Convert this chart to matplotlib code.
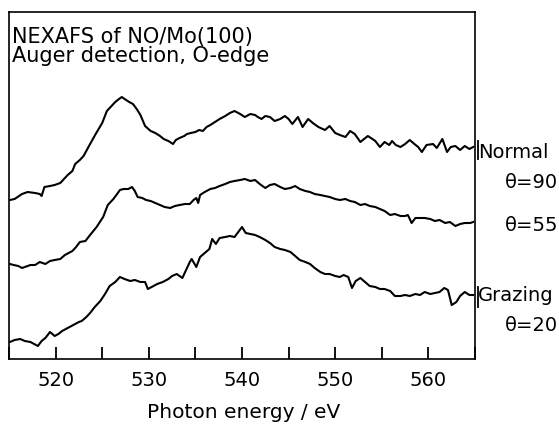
import matplotlib
matplotlib.use('Agg')
import matplotlib.pyplot as plt
from matplotlib.ticker import MultipleLocator

# photon energy (eV) and intensity (arb. units, offset per curve)
e_normal = [515.1, 515.6, 516.4, 517.0, 517.8, 518.3, 518.5, 518.8, 519.4, 519.9,
            520.5, 520.8, 521.3, 521.8, 522.1, 522.6, 523.0, 523.7, 524.3, 525.0,
            525.5, 525.9, 526.4, 526.8, 527.1, 527.4, 527.9, 528.3, 528.7, 529.1,
            529.6, 530.2, 530.7, 531.2, 531.6, 532.1, 532.6, 532.9, 533.3, 533.8,
            534.1, 534.5, 535.0, 535.4, 535.8, 536.2, 536.6, 537.1, 537.6, 538.2,
            538.7, 539.2, 539.8, 540.3, 540.9, 541.4, 541.7, 542.1, 542.5, 543.0,
            543.5, 544.1, 544.6, 545.0, 545.4, 546.0, 546.5, 547.1, 547.6, 548.2,
            548.9, 549.4, 550.0, 550.5, 551.1, 551.6, 552.1, 552.7, 553.1, 553.5,
            554.0, 554.3, 554.8, 555.3, 555.8, 556.1, 556.5, 557.0, 557.5, 558.0,
            558.5, 558.9, 559.3, 559.8, 560.5, 560.9, 561.5, 562.0, 562.4, 562.9,
            563.4, 563.9, 564.4, 564.8]
i_normal = [159, 160, 165, 167, 166, 165, 163, 172, 173, 174,
            176, 179, 184, 188, 195, 199, 203, 215, 225, 236,
            248, 252, 257, 260, 262, 260, 257, 255, 250, 244,
            233, 228, 226, 223, 220, 218, 215, 219, 221, 223,
            225, 226, 227, 229, 228, 232, 234, 237, 240, 243,
            246, 248, 245, 242, 245, 244, 242, 240, 243, 242,
            238, 240, 243, 240, 235, 242, 232, 240, 236, 232,
            229, 233, 226, 224, 222, 228, 225, 217, 220, 223,
            220, 218, 212, 217, 214, 218, 214, 212, 215, 219,
            215, 212, 207, 214, 215, 211, 220, 207, 212, 213,
            209, 213, 210, 212]

e_mid = [515.1, 515.5, 516.0, 516.4, 516.7, 517.3, 517.8, 518.3, 518.9, 519.4,
         519.9, 520.5, 521.0, 521.8, 522.2, 522.6, 523.2, 523.7, 524.4, 525.1,
         525.6, 526.2, 526.6, 526.9, 527.3, 527.8, 528.2, 528.5, 528.8, 529.3,
         529.7, 530.2, 530.7, 531.2, 531.7, 532.3, 532.8, 533.3, 533.9, 534.4,
         534.8, 535.1, 535.3, 535.5, 536.0, 536.6, 537.1, 537.6, 538.2, 538.7,
         539.2, 539.8, 540.3, 540.9, 541.4, 541.9, 542.5, 543.0, 543.5, 544.1,
         544.6, 545.2, 545.7, 546.2, 546.8, 547.3, 547.8, 548.4, 548.9, 549.4,
         550.0, 550.5, 551.1, 551.6, 552.1, 552.7, 553.2, 553.7, 554.3, 554.8,
         555.3, 555.9, 556.4, 557.0, 557.5, 557.8, 558.2, 558.6, 559.1, 559.6,
         560.2, 560.7, 561.2, 561.8, 562.3, 562.9, 563.4, 563.9, 564.5, 564.8]
i_mid = [95, 94, 93, 91, 92, 94, 94, 97, 95, 98,
         99, 100, 104, 108, 112, 117, 118, 124, 132, 142,
         154, 160, 165, 169, 170, 170, 172, 168, 162, 161,
         159, 158, 156, 154, 152, 151, 153, 154, 155, 155,
         159, 161, 156, 164, 167, 170, 171, 173, 175, 177,
         178, 179, 180, 178, 179, 175, 171, 174, 175, 172,
         170, 171, 173, 170, 168, 167, 165, 164, 163, 162,
         160, 159, 160, 158, 157, 154, 155, 153, 152, 150,
         148, 144, 145, 143, 143, 144, 136, 141, 141, 141,
         140, 138, 139, 136, 137, 133, 135, 136, 136, 137]

e_grazing = [515.1, 515.6, 516.2, 516.7, 517.3, 517.7, 518.1, 518.5, 518.9, 519.4,
             519.9, 520.3, 520.7, 521.1, 521.5, 522.1, 522.5, 522.8, 523.3, 523.7,
             524.2, 524.8, 525.3, 525.8, 526.4, 526.9, 527.4, 528.0, 528.5, 529.1,
             529.6, 529.9, 530.3, 530.9, 531.5, 532.1, 532.5, 533.0, 533.6, 534.0,
             534.4, 534.6, 535.1, 535.5, 536.0, 536.5, 536.8, 537.2, 537.6, 538.2,
             538.7, 539.2, 539.6, 540.0, 540.4, 540.9, 541.4, 541.9, 542.5, 543.0,
             543.5, 544.1, 544.6, 545.2, 545.7, 546.2, 546.8, 547.3, 547.8, 548.4,
             548.9, 549.4, 550.0, 550.5, 550.9, 551.4, 551.8, 552.2, 552.7, 553.2,
             553.7, 554.3, 554.8, 555.3, 555.9, 556.4, 557.0, 557.5, 558.0, 558.6,
             559.1, 559.6, 560.2, 560.7, 561.2, 561.7, 562.1, 562.5, 563.0, 563.4,
             563.9, 564.4, 564.8]
i_grazing = [17, 19, 20, 18, 17, 15, 13, 18, 21, 27,
             23, 25, 28, 30, 32, 35, 37, 38, 42, 46,
             52, 58, 65, 73, 77, 82, 80, 78, 79, 77,
             77, 70, 72, 75, 77, 80, 83, 85, 81, 89,
             97, 100, 92, 102, 106, 110, 120, 115, 121, 122,
             123, 122, 127, 132, 126, 125, 124, 122, 119, 116,
             112, 110, 109, 107, 103, 99, 97, 95, 91, 87,
             85, 85, 83, 82, 84, 82, 71, 78, 81, 77,
             73, 72, 70, 70, 68, 63, 63, 64, 63, 65,
             64, 67, 65, 66, 67, 71, 69, 54, 57, 63,
             67, 64, 64]

fs = 15

fig = plt.figure(figsize=(5.59, 4.27), dpi=100)
ax = fig.add_axes([9 / 559, 67 / 427, 466 / 559, 347 / 427])

for e, i in [(e_normal, i_normal), (e_mid, i_mid), (e_grazing, i_grazing)]:
    ax.plot(e, i, color='black', lw=1.5)

ax.set_xlim(515, 565)
ax.set_ylim(0, 347)
ax.xaxis.set_major_locator(MultipleLocator(10))
ax.xaxis.set_minor_locator(MultipleLocator(5))
ax.tick_params(axis='x', which='both', direction='in', length=8.5, width=1.3,
               pad=8, labelsize=14)
ax.set_yticks([])
for sp in ax.spines.values():
    sp.set_linewidth(1.2)

# curve end markers next to the labels
ax.plot([565.3, 565.3], [200, 218], color='black', lw=1.3, clip_on=False)
ax.plot([565.3, 565.3], [52, 72], color='black', lw=1.3, clip_on=False)

fig.text(12 / 559, 1 - 43 / 427, 'NEXAFS of NO/Mo(100)', fontsize=fs, va='baseline')
fig.text(12 / 559, 1 - 62 / 427, 'Auger detection, O-edge', fontsize=fs, va='baseline')

fig.text(478 / 559, 1 - 158 / 427, 'Normal', fontsize=14, va='baseline')
fig.text(558 / 559, 1 - 188 / 427, 'θ=90', fontsize=14, va='baseline', ha='right')
fig.text(558 / 559, 1 - 231 / 427, 'θ=55', fontsize=14, va='baseline', ha='right')
fig.text(478 / 559, 1 - 301 / 427, 'Grazing', fontsize=14, va='baseline')
fig.text(558 / 559, 1 - 331 / 427, 'θ=20', fontsize=14, va='baseline', ha='right')

fig.text(244 / 559, 1 - 418 / 427, 'Photon energy / eV', fontsize=14.5,
         va='baseline', ha='center')

fig.savefig('out.png', dpi=100)
